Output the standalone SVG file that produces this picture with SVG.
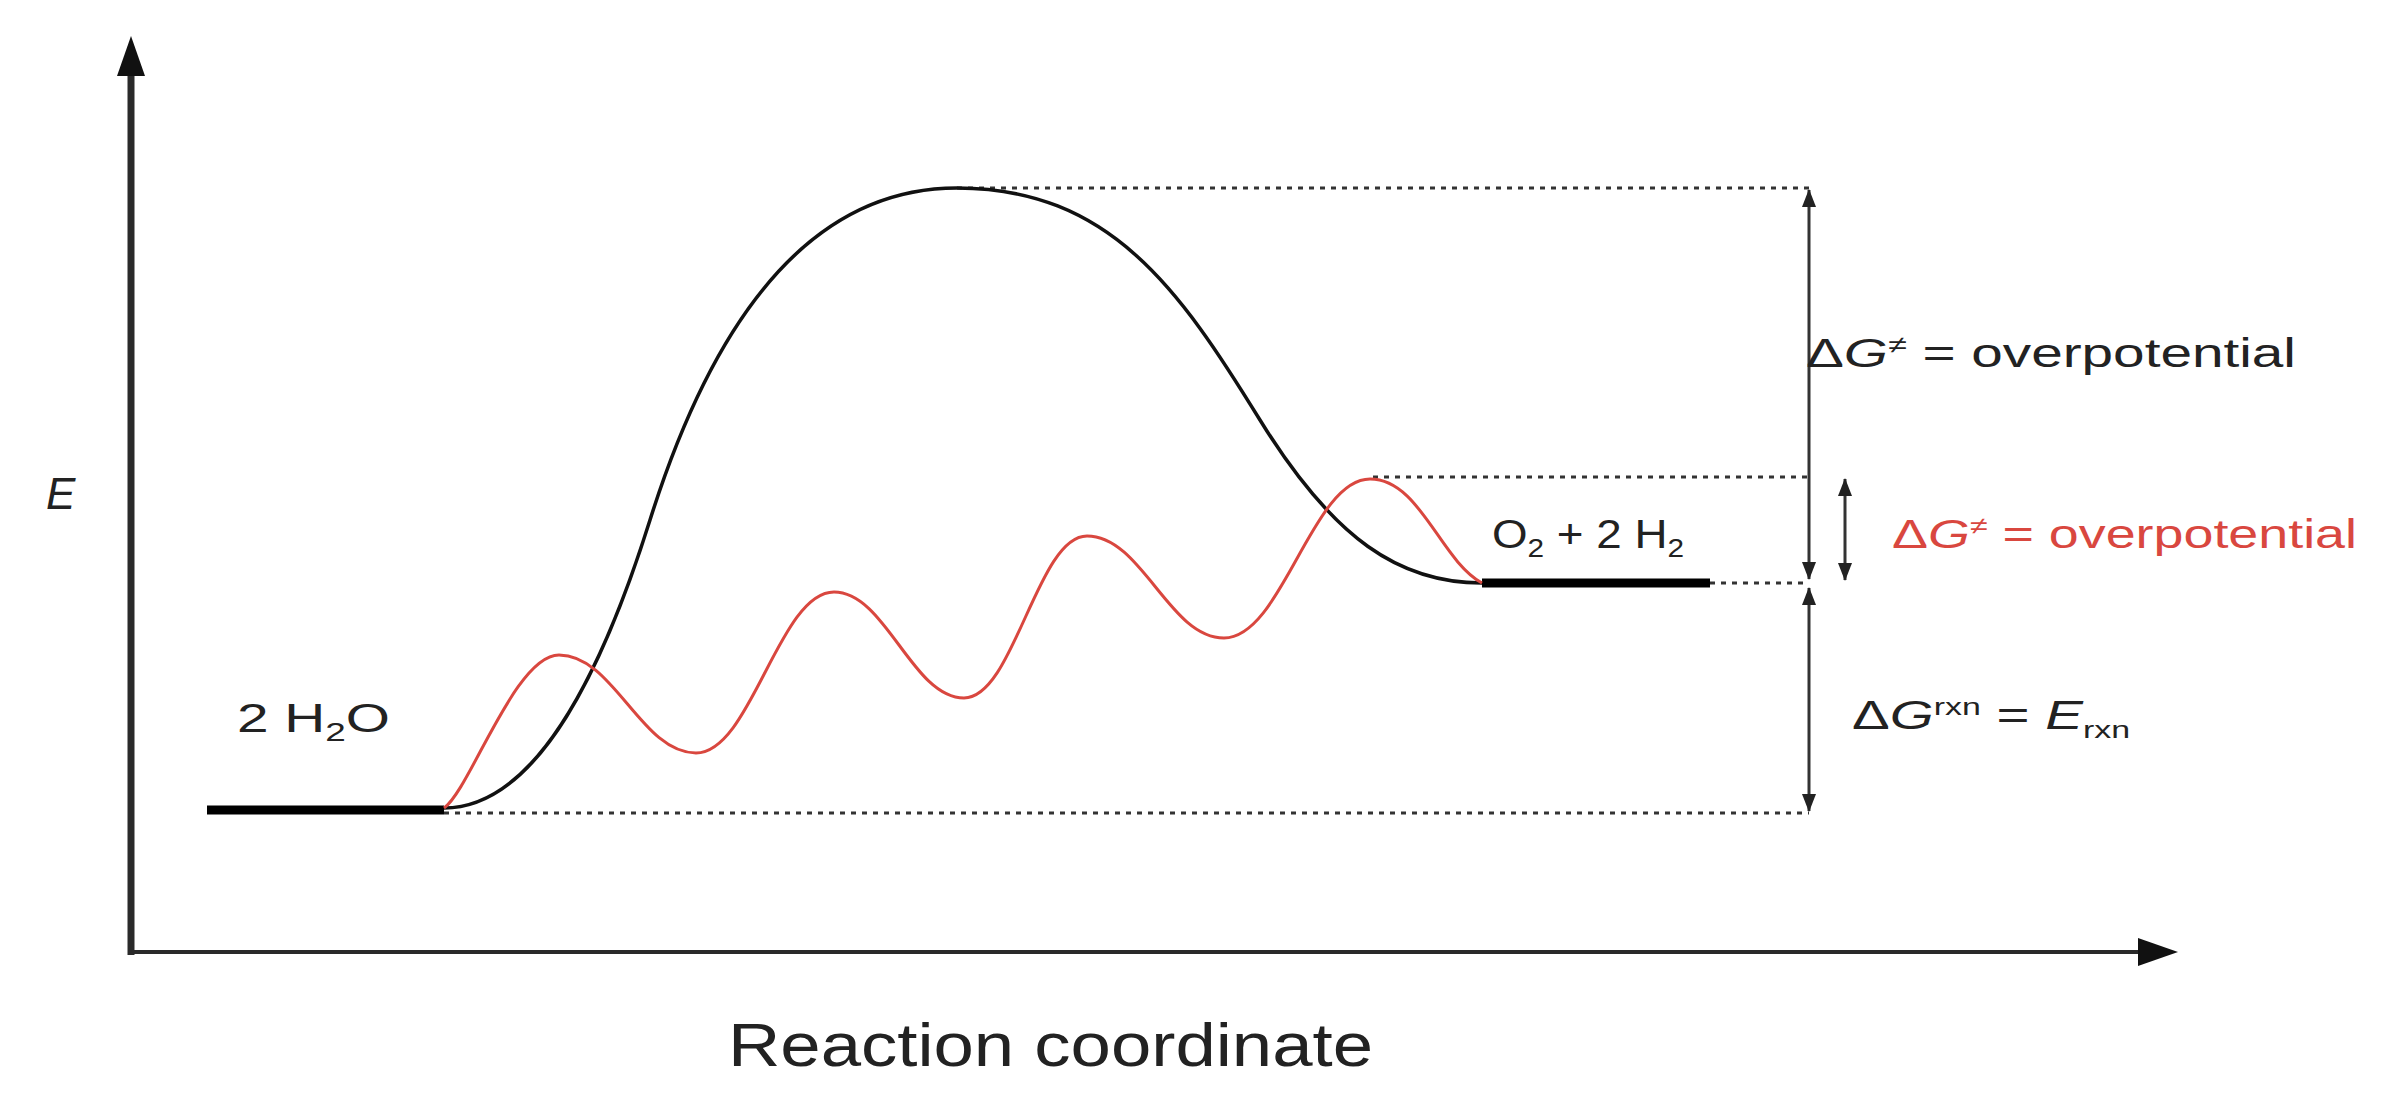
<svg xmlns="http://www.w3.org/2000/svg" width="2400" height="1102" viewBox="0 0 2400 1102">
  <style>
    .lbl { font-family: "Liberation Sans", Arial, sans-serif; fill: #222; }
    .red { fill: #d9473f; }
    .axis { stroke: #2a2a2a; fill: none; }
    .dot { stroke: #333; stroke-width: 3; stroke-dasharray: 5 6; fill: none; }
    .level { stroke: #000; stroke-width: 9; fill: none; }
    .meas { stroke: #333; stroke-width: 3; fill: none; marker-start: url(#sm); marker-end: url(#sm); }
  </style>
  <defs>
    <marker id="axh" markerUnits="userSpaceOnUse" markerWidth="40" markerHeight="28" viewBox="0 0 40 28" refX="2" refY="14" orient="auto">
      <path d="M0,0 L40,14 L0,28 Z" fill="#111"/>
    </marker>
    <marker id="sm" markerUnits="userSpaceOnUse" markerWidth="18" markerHeight="14" viewBox="0 0 18 14" refX="17" refY="7" orient="auto-start-reverse">
      <path d="M0,0 L18,7 L0,14 Z" fill="#222"/>
    </marker>
  </defs>
  <rect width="2400" height="1102" fill="#fff"/>

  <g id="axes">
    <line class="axis" x1="131" y1="955" x2="131" y2="74" stroke-width="7" marker-end="url(#axh)"/>
    <line class="axis" x1="128" y1="952" x2="2140" y2="952" stroke-width="4" marker-end="url(#axh)"/>
  </g>

  <g id="axis-labels">
    <text class="lbl" x="46" y="509" font-size="44" font-style="italic">E</text>
    <text class="lbl" x="728" y="1066" font-size="62" textLength="645" lengthAdjust="spacingAndGlyphs">Reaction coordinate</text>
  </g>

  <g id="connectors">
    <line class="dot" x1="444" y1="813" x2="1809" y2="813"/>
    <line class="dot" x1="957" y1="188" x2="1809" y2="188"/>
    <line class="dot" x1="1373" y1="477" x2="1809" y2="477"/>
    <line class="dot" x1="1710" y1="583" x2="1809" y2="583"/>
    <line class="meas" x1="1809" y1="190" x2="1809" y2="579"/>
    <line class="meas" x1="1809" y1="588" x2="1809" y2="811"/>
    <line class="meas" x1="1845" y1="479" x2="1845" y2="580"/>
  </g>

  <g id="reactant">
    <line class="level" x1="207" y1="810" x2="444" y2="810"/>
    <text class="lbl" x="237" y="732" font-size="40" textLength="153" lengthAdjust="spacingAndGlyphs">2 H<tspan font-size="26" dy="9">2</tspan><tspan dy="-9">O</tspan></text>
  </g>

  <g id="product">
    <line class="level" x1="1482" y1="583" x2="1710" y2="583"/>
    <text class="lbl" x="1492" y="548" font-size="40" textLength="192" lengthAdjust="spacingAndGlyphs">O<tspan font-size="26" dy="9">2</tspan><tspan dy="-9"> + 2 H</tspan><tspan font-size="26" dy="9">2</tspan></text>
  </g>

  <g id="uncatalysed-curve">
    <path d="M444,808 C540,808 606,660 650,520 C694,380 780,188 957,188 C1110,188 1180,290 1260,420 C1334,540 1400,583 1482,583" fill="none" stroke="#111" stroke-width="3.5"/>
  </g>

  <g id="catalysed-curve">
    <path d="M444,808 C470,790 515,655 559,655 C614,655 641,753 696,753 C751,753 779,592 834,592 C886,592 912,698 964,698 C1014,698 1037,536 1087,536 C1142,536 1169,638 1224,638 C1282,638 1312,479 1370,479 C1420,479 1440,560 1482,583" fill="none" stroke="#d9473f" stroke-width="3"/>
  </g>

  <g id="label-overpotential">
    <text class="lbl" x="1806" y="367" font-size="40" textLength="490" lengthAdjust="spacingAndGlyphs">Δ<tspan font-style="italic">G</tspan><tspan font-size="24" dy="-14">≠</tspan><tspan dy="14"> = overpotential</tspan></text>
  </g>

  <g id="label-overpotential-cat">
    <text class="lbl red" x="1892" y="548" font-size="40" textLength="465" lengthAdjust="spacingAndGlyphs">Δ<tspan font-style="italic">G</tspan><tspan font-size="24" dy="-14">≠</tspan><tspan dy="14"> = overpotential</tspan></text>
  </g>

  <g id="label-rxn">
    <text class="lbl" x="1852" y="729" font-size="40" textLength="278" lengthAdjust="spacingAndGlyphs">Δ<tspan font-style="italic">G</tspan><tspan font-size="24" dy="-14">rxn</tspan><tspan dy="14"> = </tspan><tspan font-style="italic">E</tspan><tspan font-size="24" dy="9">rxn</tspan></text>
  </g>
</svg>
